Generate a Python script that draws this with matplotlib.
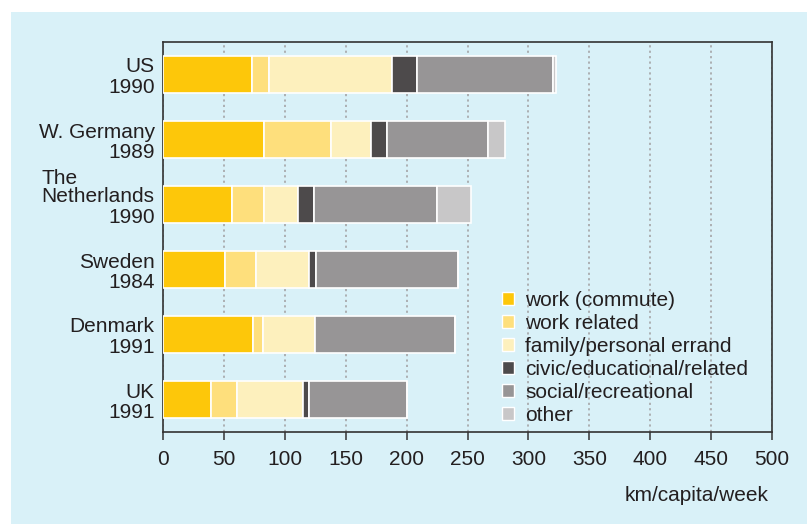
import numpy as np
import matplotlib
matplotlib.use('Agg')
import matplotlib.pyplot as plt
from matplotlib.patches import Patch, Rectangle

plt.rcParams['font.family'] = ['Liberation Sans', 'DejaVu Sans']

# Data (km/capita/week)
countries = ['US\n1990', 'W. Germany\n1989', 'Netherlands\n1990',
             'Sweden\n1984', 'Denmark\n1991', 'UK\n1991']
purposes = ['work (commute)', 'work related', 'family/personal errand',
            'civic/educational/related', 'social/recreational', 'other']
work_commute = [73, 83, 57, 51, 73.5, 39]
work_related = [14, 55, 26, 25, 8.5, 22]
family_errand = [101, 33, 27.5, 44, 43, 54]
civic_edu = [20.5, 13, 13.5, 6, 0, 5]
social_rec = [111.5, 83, 101, 116, 114.5, 80.5]
other = [3, 13.5, 27.5, 0, 0, 0]

colors = ['#fdc70a', '#fedf7c', '#fdf0bd', '#4d4a4b', '#979596', '#c8c7c8']
series = [work_commute, work_related, family_errand, civic_edu, social_rec, other]
txtcol = '#231f20'
fs = 15

fig = plt.figure(figsize=(8.07, 5.24), dpi=100)
fig.patch.set_facecolor('white')
bg = '#d9f1f8'
fig.patches.append(Rectangle((11 / 807, 0), 1, 1 - 12 / 524, transform=fig.transFigure,
                             facecolor=bg, edgecolor='none', zorder=-10))

ax = fig.add_axes([163 / 807, 1 - 432 / 524, 609 / 807, 390 / 524])
ax.set_facecolor(bg)

y = np.arange(len(countries))
left = np.zeros(len(countries))
for vals, col, lab in zip(series, colors, purposes):
    vals = np.array(vals, dtype=float)
    ax.barh(y, vals, left=left, height=0.56, color=col, edgecolor='white',
            linewidth=1.2, label=lab, zorder=3)
    left += vals

ax.set_ylim(len(countries) - 0.5, -0.5)
ax.set_xlim(0, 500)
ax.set_xticks(np.arange(0, 501, 50))
ax.set_yticks(y)
ax.set_yticklabels(countries, fontsize=fs, color=txtcol, linespacing=1.1)
ax.tick_params(axis='y', length=0, pad=6)
ax.tick_params(axis='x', length=6, width=1.1, color='#333333', pad=7,
               labelsize=fs, labelcolor=txtcol)
ax.grid(axis='x', color='#a9abad', linestyle=(0, (1.2, 1.8)), linewidth=1.3, zorder=0)
for s in ax.spines.values():
    s.set_color('#333333')
    s.set_linewidth(1.2)

ax.set_xlabel('km/capita/week', fontsize=fs, color=txtcol, loc='right', labelpad=12)
ax.xaxis.label.set_x(0.994)

handles = [Patch(facecolor=c, edgecolor='white', linewidth=1) for c in colors]
ax.legend(handles, purposes, loc='upper left', bbox_to_anchor=(0.557, 0.362),
          frameon=False, fontsize=fs, borderpad=0, borderaxespad=0,
          labelspacing=0.19, handlelength=0.55, handleheight=0.55,
          handletextpad=0.55, labelcolor=txtcol)

# "The" sits left-aligned above "Netherlands"
fig.canvas.draw()
tl = ax.get_yticklabels()[2]
bb = tl.get_window_extent()
fig.text(bb.x0 / fig.bbox.width, bb.y1 / fig.bbox.height, 'The', fontsize=fs,
         color=txtcol, ha='left', va='bottom')

fig.savefig('out.png', dpi=100, facecolor='white')
